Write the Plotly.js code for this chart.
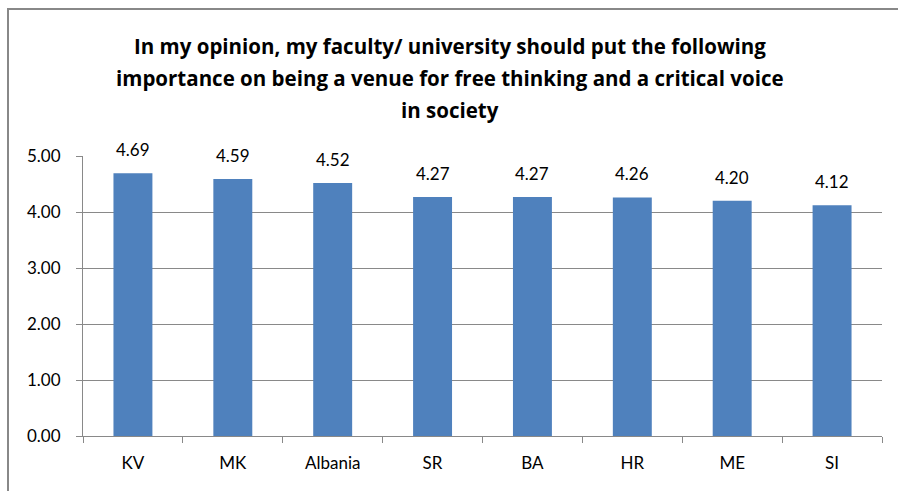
<!DOCTYPE html>
<html>
<head>
<meta charset="utf-8">
<script src="https://cdn.plot.ly/plotly-3.0.1.min.js"></script>
<style>
html,body{margin:0;padding:0;background:#fff;overflow:hidden;}
#chart{width:898px;height:491px;}
</style>
</head>
<body>
<div id="chart"></div>
<script>
const categories = ["KV", "MK", "Albania", "SR", "BA", "HR", "ME", "SI"];
const values = [4.69, 4.59, 4.52, 4.27, 4.27, 4.26, 4.20, 4.12];
const valueLabels = ["4.69", "4.59", "4.52", "4.27", "4.27", "4.26", "4.20", "4.12"];
const yTickVals = [0, 1, 2, 3, 4, 5];
const yTickText = ["0.00", "1.00", "2.00", "3.00", "4.00", "5.00"];
const titleLines = [
  "In my opinion, my faculty/ university should put the following",
  "importance on being a venue for free thinking and a critical voice",
  "in society"
];

const FONT = "Lato, 'Open Sans', sans-serif";
const TFONT = "'Open Sans', sans-serif";
const GRID = "#898989";

const trace = {
  type: "bar",
  x: categories,
  y: values,
  marker: {color: "#4F81BD", line: {width: 0}},
  hoverinfo: "skip"
};

const annotations = categories.map((c, i) => ({
  x: c, y: values[i], xref: "x", yref: "y",
  text: valueLabels[i], showarrow: false,
  yanchor: "bottom", yshift: 11,
  font: {family: FONT, size: 17, color: "#000"}
}));

titleLines.forEach((t, i) => {
  annotations.push({
    x: (450 - 83) / 799, xref: "paper",
    y: 1, yref: "paper", yanchor: "middle",
    yshift: 110 - i * 32,
    text: "<b>" + t + "</b>", showarrow: false,
    font: {family: TFONT, size: 20.5, color: "#000"}
  });
});

const layout = {
  width: 898, height: 491,
  margin: {l: 83, r: 16, t: 156, b: 55},
  paper_bgcolor: "#fff", plot_bgcolor: "#fff",
  showlegend: false,
  bargap: 0.61,
  xaxis: {
    type: "category",
    tickson: "boundaries",
    ticks: "outside", ticklen: 6, tickcolor: GRID, tickwidth: 1,
    showline: true, linecolor: GRID, linewidth: 1,
    showgrid: false,
    tickfont: {family: FONT, size: 17, color: "#000"},
    ticklabelstandoff: 12,
    fixedrange: true
  },
  yaxis: {
    range: [0, 5],
    tickvals: yTickVals, ticktext: yTickText,
    ticks: "outside", ticklen: 6, tickcolor: GRID, tickwidth: 1,
    showline: true, linecolor: GRID, linewidth: 1,
    showgrid: true, gridcolor: GRID, gridwidth: 1,
    zeroline: false,
    tickfont: {family: FONT, size: 17, color: "#000"},
    ticklabelstandoff: 12,
    fixedrange: true
  },
  shapes: [{
    type: "rect", xref: "paper", yref: "paper",
    x0: (8 - 83) / 799, x1: 1.2,
    y0: -0.4, y1: (436 - 9) / 280,
    line: {color: "#888", width: 2}, fillcolor: "rgba(0,0,0,0)",
    layer: "below"
  }],
  annotations: annotations
};

Plotly.newPlot("chart", [trace], layout, {displayModeBar: false, staticPlot: true});
</script>
</body>
</html>
